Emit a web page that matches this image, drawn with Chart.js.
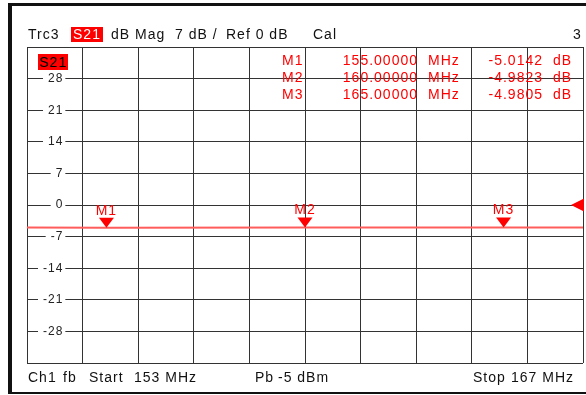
<!DOCTYPE html>
<html>
<head>
<meta charset="utf-8">
<script src="https://cdn.jsdelivr.net/npm/chart.js@4/dist/chart.umd.min.js"></script>
<style>
  html, body { margin: 0; padding: 0; background: #fff; overflow: hidden; }
  #wrap { position: relative; width: 586px; height: 395px; overflow: hidden;
          font-family: "Liberation Sans", Arial, sans-serif; font-size: 14px; letter-spacing: 1px; color: #111; }
  #wrap canvas { position: absolute; left: 0; top: 0; }
  .t { position: absolute; white-space: pre; line-height: 16px; }
  .red { color: #f00; }
  .box { position: absolute; background: #f00; text-align: center; line-height: 15px; }
  .frame { position: absolute; background: #111; }
</style>
</head>
<body>
<div id="wrap">
  <canvas id="vna" width="586" height="395"></canvas>

  <div class="frame" style="left:8px;top:3px;width:578px;height:3px"></div>
  <div class="frame" style="left:8px;top:3px;width:4px;height:391px"></div>
  <div class="frame" style="left:8px;top:392px;width:578px;height:2px"></div>
  <div style="position:absolute;left:584px;top:6px;width:2px;height:386px;background:#fff"></div>

  <!-- header line -->
  <div class="t" style="left:28px;top:26px">Trc3</div>
  <div class="box" style="left:71px;top:27px;width:32px;height:15px;color:#fff">S21</div>
  <div class="t" style="left:111px;top:26px">dB Mag</div>
  <div class="t" style="left:175px;top:26px">7 dB /</div>
  <div class="t" style="left:226px;top:26px">Ref 0 dB</div>
  <div class="t" style="left:313px;top:26px">Cal</div>
  <div class="t" style="left:573px;top:26px">3</div>

  <div class="box" style="left:38px;top:54px;width:30px;height:16px;line-height:16px;color:#000">S21</div>

  <div id="mtable"></div>

  <!-- footer line -->
  <div class="t" style="left:28px;top:369px">Ch1</div>
  <div class="t" style="left:63px;top:369px">fb</div>
  <div class="t" style="left:89px;top:369px">Start</div>
  <div class="t" style="left:134px;top:369px">153 MHz</div>
  <div class="t" style="left:255px;top:369px">Pb</div>
  <div class="t" style="left:278px;top:369px">-5 dBm</div>
  <div class="t" style="left:473px;top:369px">Stop</div>
  <div class="t" style="left:511px;top:369px">167 MHz</div>
</div>

<script>
// sweep, MHz
const startFreq = 153;
const stopFreq = 167;

// S21 trace (dB)
const traceFreqs = [153, 155, 160, 165, 167];
const traceValues = [-5.01, -5.0142, -4.9823, -4.9805, -4.98];

// markers
const markerNames = ['M1', 'M2', 'M3'];
const markerFreqs = [155, 160, 165];
const markerValues = [-5.0142, -4.9823, -4.9805];

// y axis: 7 dB / div, ref 0 dB
const yMin = -35;
const yMax = 35;
const yStep = 7;
const refLevel = 0;

// marker readout table
const table = document.getElementById('mtable');
markerNames.forEach((name, i) => {
  const top = 52 + i * 17;
  table.innerHTML +=
    `<div class="t red" style="left:282px;top:${top}px">${name}</div>` +
    `<div class="t red" style="left:318px;top:${top}px;width:100px;text-align:right">${markerFreqs[i].toFixed(5)}</div>` +
    `<div class="t red" style="left:428px;top:${top}px">MHz</div>` +
    `<div class="t red" style="left:463px;top:${top}px;width:80px;text-align:right">${markerValues[i].toFixed(4)}</div>` +
    `<div class="t red" style="left:553px;top:${top}px">dB</div>`;
});

// triangles + labels for markers, and the ref level arrow on the right
const markerPlugin = {
  id: 'markers',
  afterDatasetsDraw(chart) {
    const { ctx, scales: { x, y }, chartArea } = chart;
    ctx.save();
    ctx.fillStyle = '#f00';
    ctx.font = '14px "Liberation Sans", Arial, sans-serif';
    ctx.letterSpacing = '1px';
    ctx.textAlign = 'center';
    ctx.textBaseline = 'alphabetic';
    markerNames.forEach((name, i) => {
      const px = x.getPixelForValue(markerFreqs[i]);
      const py = y.getPixelForValue(markerValues[i]);
      ctx.beginPath();
      ctx.moveTo(px, py);
      ctx.lineTo(px - 7.5, py - 10);
      ctx.lineTo(px + 7.5, py - 10);
      ctx.closePath();
      ctx.fill();
      ctx.fillText(name, px, py - 13);
    });
    // ref arrow
    const ry = y.getPixelForValue(refLevel);
    ctx.beginPath();
    ctx.moveTo(chartArea.right - 12, ry);
    ctx.lineTo(chartArea.right + 1, ry - 6.5);
    ctx.lineTo(chartArea.right + 1, ry + 6.5);
    ctx.closePath();
    ctx.fill();
    ctx.restore();
  }
};

Chart.defaults.font.family = '"Liberation Sans", Arial, sans-serif';

new Chart(document.getElementById('vna'), {
  type: 'line',
  data: {
    datasets: [{
      data: traceFreqs.map((f, i) => ({ x: f, y: traceValues[i] })),
      borderColor: '#ff5c5c',
      borderWidth: 2,
      pointRadius: 0,
      tension: 0
    }]
  },
  options: {
    responsive: false,
    animation: false,
    layout: { padding: { left: 27, top: 47, right: 3, bottom: 32 } },
    plugins: { legend: { display: false }, tooltip: { enabled: false } },
    scales: {
      x: {
        type: 'linear',
        min: startFreq,
        max: stopFreq,
        ticks: { display: false, count: 11 },
        grid: { color: '#333', lineWidth: 1, drawTicks: false },
        border: { display: false },
        afterFit: (s) => { s.height = 0; }
      },
      y: {
        min: yMin,
        max: yMax,
        ticks: {
          stepSize: yStep,
          mirror: true,
          crossAlign: 'far',
          padding: 16,
          color: '#222',
          font: { size: 12 },
          showLabelBackdrop: true,
          backdropColor: (c) => Math.abs(c.tick.value) >= yMax ? 'rgba(0,0,0,0)' : '#fff',
          backdropPadding: { left: 5, right: 2, top: 0, bottom: 0 },
          callback: (v) => Math.abs(v) >= yMax ? '' : String(v)
        },
        grid: { color: '#333', lineWidth: 1, drawTicks: false },
        border: { display: false },
        afterFit: (s) => { s.width = 0; }
      }
    }
  },
  plugins: [markerPlugin]
});
</script>
</body>
</html>
